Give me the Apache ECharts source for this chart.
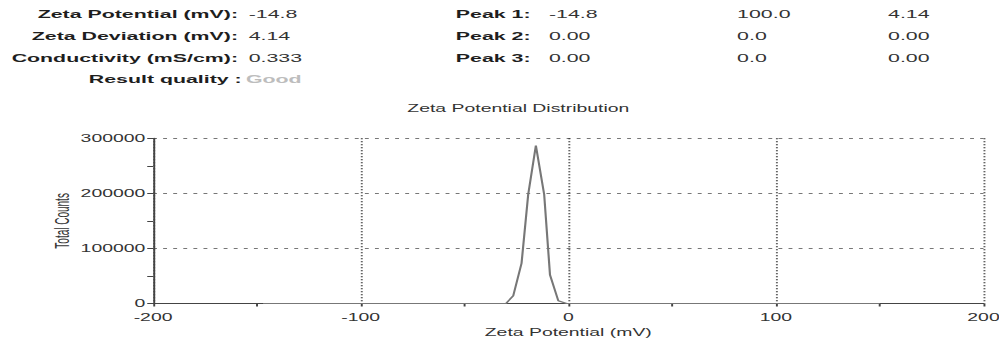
<!DOCTYPE html>
<html>
<head>
<meta charset="utf-8">
<script src="https://cdn.jsdelivr.net/npm/echarts@6/dist/echarts.min.js"></script>
<style>
html,body{margin:0;padding:0;background:#fff;overflow:hidden;}
#c{width:515px;height:338px;transform:scaleX(1.9398);transform-origin:0 0;}
</style>
</head>
<body>
<div id="c"></div>
<script>
// Zeta potential distribution (mV) vs total counts
var potentials = [-147, -30, -26.5, -22.5, -19.3, -15.6, -11.6, -8.8, -4.8, -0.8, 150];
var counts     = [0, 0, 14000, 73000, 198000, 287000, 198000, 52000, 5000, 0, 0];

var infoLabels = ['Zeta Potential (mV):', 'Zeta Deviation (mV):', 'Conductivity (mS/cm):'];
var infoValues = ['-14.8', '4.14', '0.333'];
var qualityLabel = 'Result quality :';
var qualityValue = 'Good';
var peakLabels = ['Peak 1:', 'Peak 2:', 'Peak 3:'];
var peakMeans  = ['-14.8', '0.00', '0.00'];
var peakAreas  = ['100.0', '0.0', '0.0'];
var peakWidths = ['4.14', '0.00', '0.00'];

var titleText = 'Zeta Potential Distribution';
var xName = 'Zeta Potential (mV)';
var yName = 'Total Counts';

var FONT = '"Liberation Sans", Arial, sans-serif';
var rowsY = [14.5, 36.5, 58, 79];

function txt(text, x, y, align, opts) {
  opts = opts || {};
  return {
    type: 'text', x: x, y: y, silent: true,
    style: {
      text: text, fontFamily: FONT, fontSize: opts.size || 11,
      fontWeight: opts.bold ? 'bold' : 'normal',
      fill: opts.color || '#333', align: align, verticalAlign: 'middle'
    }
  };
}

var graphics = [];
infoLabels.forEach(function (l, i) {
  graphics.push(txt(l, 122.7, rowsY[i], 'right', {bold: true, color: '#1e1e1e'}));
  graphics.push(txt(infoValues[i], 128.2, rowsY[i], 'left', {color: '#333'}));
});
graphics.push(txt(qualityLabel, 124.6, rowsY[3], 'right', {bold: true, color: '#1e1e1e'}));
graphics.push(txt(qualityValue, 126.8, rowsY[3], 'left', {bold: true, color: '#bdbdbd'}));
peakLabels.forEach(function (l, i) {
  graphics.push(txt(l, 235, rowsY[i], 'left', {bold: true, color: '#1e1e1e'}));
  graphics.push(txt(peakMeans[i], 283, rowsY[i], 'left'));
  graphics.push(txt(peakAreas[i], 380, rowsY[i], 'left'));
  graphics.push(txt(peakWidths[i], 457.8, rowsY[i], 'left'));
});

var chart = echarts.init(document.getElementById('c'), null, {renderer: 'svg'});
chart.setOption({
  animation: false,
  backgroundColor: '#fff',
  textStyle: {fontFamily: FONT},
  title: {
    text: titleText, left: 210, top: 103, padding: 0,
    textStyle: {fontSize: 10, fontWeight: 'normal', color: '#333', fontFamily: FONT}
  },
  graphic: graphics,
  grid: {left: 78.9, right: 8, top: 138.3, bottom: 34.5, containLabel: false, outerBoundsMode: 'none'},
  xAxis: {
    type: 'value', min: -200, max: 200, interval: 100,
    name: xName, nameLocation: 'middle', nameGap: 24, nameMoveOverlap: false,
    nameTextStyle: {fontSize: 10, color: '#333', fontFamily: FONT},
    axisLine: {onZero: false, lineStyle: {color: '#444', width: 1}},
    axisTick: {show: true, length: 3, lineStyle: {color: '#444'}},
    minorTick: {show: true, splitNumber: 2, length: 3, lineStyle: {color: '#444'}},
    axisLabel: {fontSize: 10, color: '#333', margin: 9, fontFamily: FONT},
    splitLine: {show: true, lineStyle: {color: '#333', width: 1, type: [1, 2]}},
    minorSplitLine: {show: false}
  },
  yAxis: {
    type: 'value', min: 0, max: 300000, interval: 100000,
    name: yName, nameLocation: 'middle', nameGap: 42, nameRotate: 90, nameMoveOverlap: false,
    nameTextStyle: {fontSize: 10, color: '#333', fontFamily: FONT},
    axisLine: {show: true, onZero: false, lineStyle: {color: '#444', width: 1}},
    axisTick: {show: true, length: 3, lineStyle: {color: '#444'}},
    minorTick: {show: true, splitNumber: 2, length: 3, lineStyle: {color: '#444'}},
    axisLabel: {fontSize: 10, color: '#333', margin: 4, fontFamily: FONT,
      formatter: function (v) { return String(v); }},
    splitLine: {show: true, lineStyle: {color: '#777', width: 1, type: [2, 3.2]}}
  },
  series: [{
    type: 'line', showSymbol: false, symbol: 'none',
    lineStyle: {color: '#777', width: 1.1},
    data: potentials.map(function (p, i) { return [p, counts[i]]; })
  }]
});
</script>
</body>
</html>
